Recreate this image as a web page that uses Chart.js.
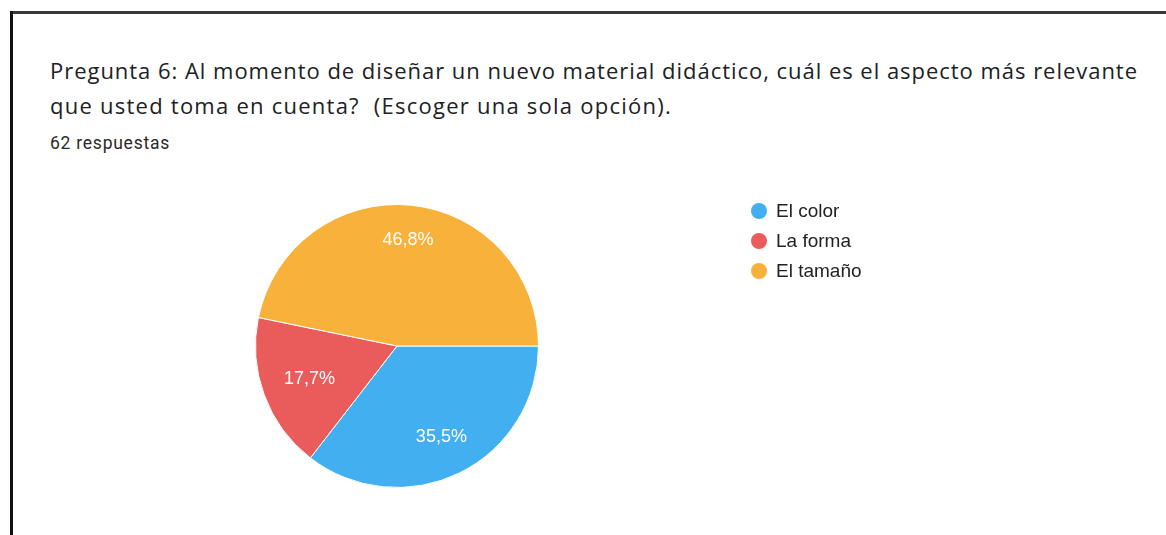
<!DOCTYPE html>
<html><head><meta charset="utf-8">
<script src="https://cdn.jsdelivr.net/npm/chart.js@4"></script>
<style>
html,body{margin:0;padding:0;background:#fff;}
body{width:1166px;height:535px;position:relative;overflow:hidden;font-family:Roboto,"Noto Sans",Arial,sans-serif;}
#topline{position:absolute;left:10px;top:11px;width:1156px;height:3px;background:#3a3a3a;}
#leftline{position:absolute;left:10px;top:11px;width:3px;height:524px;background:#111;}
.t{position:absolute;left:50px;white-space:nowrap;color:#202124;}
#l1{top:55px;font-family:"Open Sans",Roboto,sans-serif;font-size:22px;line-height:30px;}
#l2{top:90px;font-family:"Open Sans",Roboto,sans-serif;font-size:22px;line-height:30px;}
#sub{top:133px;font-size:17.5px;line-height:20px;color:#2a2a2a;}
#c{position:absolute;left:0;top:0;}
</style></head><body>
<div id="topline"></div><div id="leftline"></div>
<div class="t" id="l1">Pregunta 6: Al momento de diseñar un nuevo material didáctico, cuál es el aspecto más relevante</div>
<div class="t" id="l2">que usted toma en cuenta?&nbsp; (Escoger una sola opción).</div>
<div class="t" id="sub">62 respuestas</div>
<canvas id="c" width="1166" height="535"></canvas>
<script>
const categories = ["El color", "La forma", "El tamaño"];
const counts = [22, 11, 29];
const percentLabels = ["35,5%", "17,7%", "46,8%"];
const colors = ["#42aff0", "#ea5b5b", "#f8b23b"];

function fitWidth(el, target){
  const w = el.getBoundingClientRect().width;
  const ls = (target - w) / (el.textContent.length);
  el.style.letterSpacing = ls + 'px';
}
fitWidth(document.getElementById('l1'), 1088);
fitWidth(document.getElementById('l2'), 622);
fitWidth(document.getElementById('sub'), 120);

const labelPlugin = {
  id: 'sliceLabels',
  afterDatasetsDraw(chart){
    const ctx = chart.ctx;
    const meta = chart.getDatasetMeta(0);
    ctx.save();
    ctx.font = '18px Arial, "Liberation Sans", sans-serif';
    ctx.fillStyle = '#ffffff';
    ctx.textAlign = 'center';
    ctx.textBaseline = 'middle';
    const h = 13;
    meta.data.forEach((arc, i) => {
      const mid = (arc.startAngle + arc.endAngle) / 2;
      const ux = Math.cos(mid), uy = Math.sin(mid);
      const w = ctx.measureText(percentLabels[i]).width;
      const target = arc.outerRadius * 0.845;
      let lo = 0, hi = arc.outerRadius;
      for (let k = 0; k < 40; k++) {
        const t = (lo + hi) / 2;
        const cx = t * ux + Math.sign(ux) * w / 2;
        const cy = t * uy + Math.sign(uy) * h / 2;
        if (Math.hypot(cx, cy) > target) hi = t; else lo = t;
      }
      const t = (lo + hi) / 2;
      ctx.fillText(percentLabels[i], arc.x + t * ux, arc.y + t * uy + 1);
    });
    ctx.restore();
  }
};
const legendPlugin = {
  id: 'customLegend',
  afterDraw(chart){
    const ctx = chart.ctx;
    ctx.save();
    ctx.font = '19px Arial, "Liberation Sans", sans-serif';
    ctx.textBaseline = 'middle';
    categories.forEach((c, i) => {
      const y = 211 + i * 30;
      ctx.fillStyle = colors[i];
      ctx.beginPath(); ctx.arc(759, y, 8, 0, Math.PI * 2); ctx.fill();
      ctx.fillStyle = '#222';
      ctx.fillText(c, 776, y + 1);
    });
    ctx.restore();
  }
};

new Chart(document.getElementById('c'), {
  type: 'pie',
  data: { labels: categories, datasets: [{ data: counts, backgroundColor: colors, borderColor: '#ffffff', borderWidth: 1 }] },
  options: {
    responsive: false, animation: false,
    rotation: 90,
    layout: { padding: { left: 255, right: 627, top: 204, bottom: 47 } },
    plugins: { legend: { display: false }, tooltip: { enabled: false } }
  },
  plugins: [labelPlugin, legendPlugin]
});
</script>
</body></html>
